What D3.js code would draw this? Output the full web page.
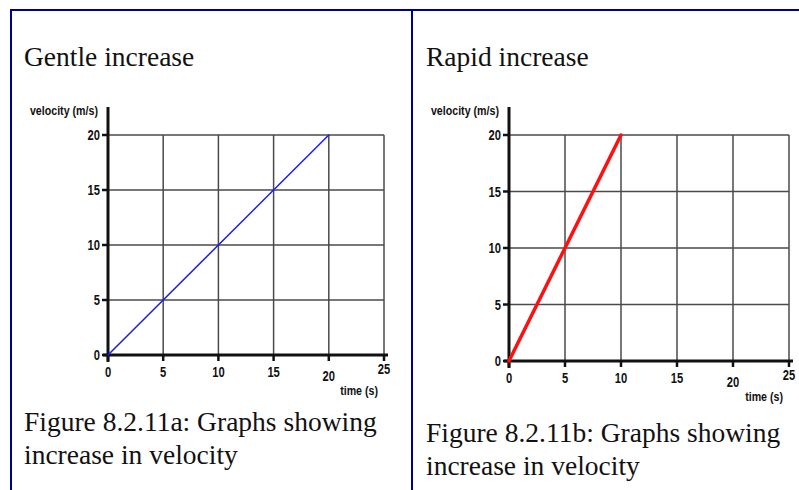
<!DOCTYPE html>
<html><head><meta charset="utf-8">
<script src="https://cdn.jsdelivr.net/npm/d3@7"></script>
<style>
html,body{margin:0;padding:0;background:#fff;}
svg{display:block;}
</style></head>
<body>
<svg id="c" width="799" height="490"></svg>
<script>
// ---- data ----
const xTicks = [0, 5, 10, 15, 20, 25];
const yTicks = [0, 5, 10, 15, 20];
const gentleTime = [0, 20];
const gentleVelocity = [0, 20];
const rapidTime = [0, 10];
const rapidVelocity = [0, 20];
const titles = ["Gentle increase", "Rapid increase"];
const captionLines = [
  ["Figure 8.2.11a: Graphs showing", "increase in velocity"],
  ["Figure 8.2.11b: Graphs showing", "increase in velocity"]
];
const yAxisTitle = "velocity (m/s)";
const xAxisTitle = "time (s)";

const svg = d3.select("#c");
const navy = "#000090";

// frame lines
svg.append("line").attr("x1", 10).attr("x2", 799).attr("y1", 10).attr("y2", 10)
  .attr("stroke", navy).attr("stroke-width", 2);
svg.append("line").attr("x1", 11).attr("x2", 11).attr("y1", 9).attr("y2", 490)
  .attr("stroke", navy).attr("stroke-width", 2);
svg.append("line").attr("x1", 412).attr("x2", 412).attr("y1", 9).attr("y2", 490)
  .attr("stroke", navy).attr("stroke-width", 2);

const serif = "'Liberation Serif','Times New Roman',serif";
const sans = "'Liberation Sans',Arial,sans-serif";

function condText(g, x, y, txt, size, anchor, sx) {
  return g.append("text")
    .attr("transform", `translate(${x},${y}) scale(${sx},1)`)
    .attr("text-anchor", anchor).text(txt)
    .attr("font-family", sans).attr("font-weight", "bold")
    .attr("font-size", size).attr("fill", "#111");
}

function panel(cfg) {
  const g = svg.append("g");
  const x = d3.scaleLinear().domain([0, 25]).range([cfg.x0, cfg.x1]);
  const y = d3.scaleLinear().domain([0, 20]).range([cfg.y0, cfg.y1]);

  // title
  g.append("text").attr("x", cfg.tx).attr("y", 66).text(cfg.title)
    .attr("font-family", serif).attr("font-size", 27.5).attr("fill", "#111");

  // grid
  g.selectAll(".vg").data(xTicks.filter(d => d > 0)).join("line")
    .attr("x1", d => x(d)).attr("x2", d => x(d))
    .attr("y1", y(20)).attr("y2", y(0))
    .attr("stroke", "#4a4a4a").attr("stroke-width", 1.5);
  g.selectAll(".hg").data(yTicks.filter(d => d > 0)).join("line")
    .attr("x1", x(0)).attr("x2", x(25))
    .attr("y1", d => y(d)).attr("y2", d => y(d))
    .attr("stroke", "#4a4a4a").attr("stroke-width", 1.5);

  // axes (thick)
  g.append("line").attr("x1", x(0)).attr("x2", x(0))
    .attr("y1", y(20) - 28).attr("y2", y(0) + 7)
    .attr("stroke", "#111").attr("stroke-width", 3);
  g.append("line").attr("x1", x(0) - 5).attr("x2", x(25) + 4)
    .attr("y1", y(0)).attr("y2", y(0))
    .attr("stroke", "#111").attr("stroke-width", 3);

  // y ticks
  g.selectAll(".yt").data(yTicks).join("line")
    .attr("x1", x(0) - 6).attr("x2", x(0))
    .attr("y1", d => y(d)).attr("y2", d => y(d))
    .attr("stroke", "#111").attr("stroke-width", 2.5);
  yTicks.forEach(d => condText(g, x(0) - 8, y(d) + 5, d, 14, "end", 0.8));

  // x ticks
  g.selectAll(".xt").data(xTicks).join("line")
    .attr("x1", d => x(d)).attr("x2", d => x(d))
    .attr("y1", y(0)).attr("y2", y(0) + 6)
    .attr("stroke", "#111").attr("stroke-width", 2.5);
  xTicks.forEach(d => condText(g, x(d), y(0) + (d === 20 ? 26 : d === 25 ? 19 : 22), d, 14, "middle", 0.8));

  // axis titles
  condText(g, x(0) - 10, y(20) - 20, yAxisTitle, 13, "end", 0.82);
  condText(g, x(25) - 6, y(0) + 40, xAxisTitle, 13, "end", 0.82);

  // data line
  const pts = cfg.t.map((t, i) => [t, cfg.v[i]]);
  g.append("path").datum(pts)
    .attr("d", d3.line().x(d => x(d[0])).y(d => y(d[1])))
    .attr("fill", "none").attr("stroke", cfg.color).attr("stroke-width", cfg.width)
    .attr("stroke-linecap", "round");

  // caption
  g.selectAll(".cap").data(cfg.caption).join("text")
    .attr("x", cfg.tx).attr("y", (d, i) => cfg.capY + i * 33).text(d => d)
    .attr("font-family", serif).attr("font-size", 27.5).attr("fill", "#111");
}

panel({ title: titles[0], tx: 24, x0: 108, x1: 384, y0: 355, y1: 135,
  t: gentleTime, v: gentleVelocity, color: "#1a1aff", width: 1.5,
  caption: captionLines[0], capY: 431 });
panel({ title: titles[1], tx: 426, x0: 509, x1: 789, y0: 361, y1: 135,
  t: rapidTime, v: rapidVelocity, color: "#ff1010", width: 3.5,
  caption: captionLines[1], capY: 442 });
</script>
</body></html>
